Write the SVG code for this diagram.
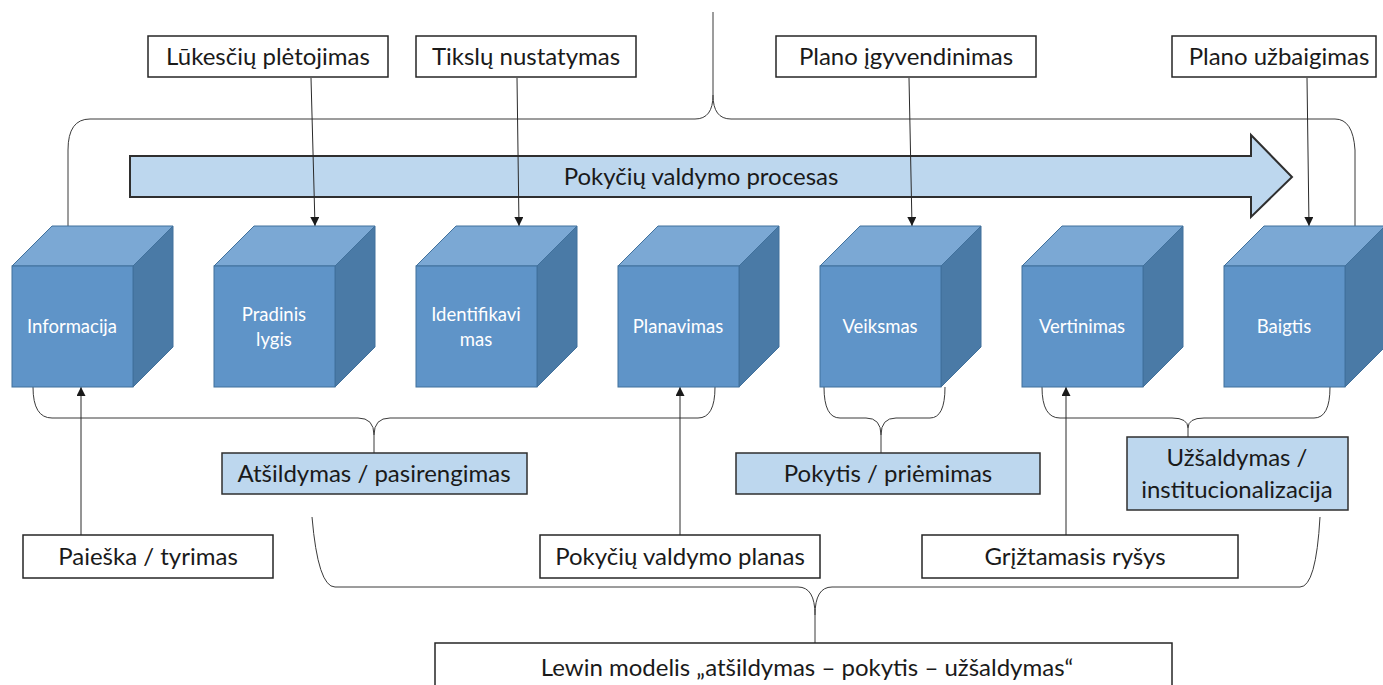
<svg xmlns="http://www.w3.org/2000/svg" width="1383" height="685" viewBox="0 0 1383 685">
<style>
.box{fill:#ffffff;stroke:#262626;stroke-width:1.5}
.lbox{fill:#BDD7EE;stroke:#2f2f2f;stroke-width:1.5}
.t{font-family:Lato,"Open Sans",sans-serif;font-size:24px;fill:#1a1a1a;text-anchor:middle}
.ct{font-family:Lato,"Open Sans",sans-serif;font-size:18.5px;fill:#ffffff;text-anchor:middle}
.front{fill:#5F94C8;stroke:#41719C;stroke-width:1}
.top{fill:#7BA8D4;stroke:#41719C;stroke-width:1}
.side{fill:#4A7AA6;stroke:#41719C;stroke-width:1}
.br{fill:none;stroke:#3a3a3a;stroke-width:1}
.ar{fill:none;stroke:#2a2a2a;stroke-width:1;marker-end:url(#ah)}
</style>
<defs>
<marker id="ah" viewBox="0 0 10 10" refX="10" refY="5" markerWidth="9" markerHeight="9" markerUnits="userSpaceOnUse" orient="auto">
<path d="M0,0 L10,5 L0,10 z" fill="#1a1a1a"/>
</marker>
</defs>
<rect width="1383" height="685" fill="#ffffff"/>

<g id="process-arrow">
<path d="M130,156 L1251,156 L1251,135 L1292,177 L1251,217 L1251,197 L130,197 Z" fill="#BDD7EE" stroke="#2f2f2f" stroke-width="2"/>
<text class="t" x="701" y="185">Pokyčių valdymo procesas</text>
</g>

<g id="connectors">
<path class="br" d="M68,226 L68,150 Q68,119 90,119 L695,119 Q713,119 713,95 L713,12 M713,95 Q713,119 731,119 L1335,119 Q1353,119 1355,150 L1355,226"/>
<path class="br" d="M33,387 Q33,418 52,418 L358,418 Q374,418 374,435 L374,453 M374,435 Q374,418 390,418 L698,418 Q715,418 715,387"/>
<path class="br" d="M824,387 Q824,418 840,418 L866,418 Q881,418 881,435 L881,453 M881,435 Q881,418 896,418 L930,418 Q945,418 945,387"/>
<path class="br" d="M1042,387 Q1042,418 1060,418 L1172,418 Q1188,418 1188,428 L1188,437 M1188,428 Q1188,418 1204,418 L1314,418 Q1330,418 1330,387"/>
<path class="br" d="M312,517 Q318,587 335,587 L798,587 Q815,587 815,615 L815,643 M815,615 Q815,587 832,587 L1300,587 Q1316,587 1320,517"/>
<path class="ar" d="M311,78 L315,226"/>
<path class="ar" d="M517,78 L519,226"/>
<path class="ar" d="M909,78 L912,226"/>
<path class="ar" d="M1307,78 L1309,226"/>
<path class="ar" d="M81,535 L81,387"/>
<path class="ar" d="M680,535 L680,387"/>
<path class="ar" d="M1066,535 L1066,387"/>
</g>

<g id="cube-informacija">
<polygon class="top" points="12,266 52,226 173,226 133,266"/>
<polygon class="side" points="133,266 173,226 173,347 133,387"/>
<rect class="front" x="12" y="266" width="121" height="121"/>
<text class="ct" x="72" y="333">Informacija</text>
</g>
<g id="cube-pradinis">
<polygon class="top" points="214,266 254,226 375,226 335,266"/>
<polygon class="side" points="335,266 375,226 375,347 335,387"/>
<rect class="front" x="214" y="266" width="121" height="121"/>
<text class="ct" x="274" y="321">Pradinis</text>
<text class="ct" x="274" y="346">lygis</text>
</g>
<g id="cube-identifikavimas">
<polygon class="top" points="416,266 456,226 577,226 537,266"/>
<polygon class="side" points="537,266 577,226 577,347 537,387"/>
<rect class="front" x="416" y="266" width="121" height="121"/>
<text class="ct" x="476" y="321">Identifikavi</text>
<text class="ct" x="476" y="346">mas</text>
</g>
<g id="cube-planavimas">
<polygon class="top" points="618,266 658,226 779,226 739,266"/>
<polygon class="side" points="739,266 779,226 779,347 739,387"/>
<rect class="front" x="618" y="266" width="121" height="121"/>
<text class="ct" x="678" y="333">Planavimas</text>
</g>
<g id="cube-veiksmas">
<polygon class="top" points="820,266 860,226 981,226 941,266"/>
<polygon class="side" points="941,266 981,226 981,347 941,387"/>
<rect class="front" x="820" y="266" width="121" height="121"/>
<text class="ct" x="880" y="333">Veiksmas</text>
</g>
<g id="cube-vertinimas">
<polygon class="top" points="1022,266 1062,226 1183,226 1143,266"/>
<polygon class="side" points="1143,266 1183,226 1183,347 1143,387"/>
<rect class="front" x="1022" y="266" width="121" height="121"/>
<text class="ct" x="1082" y="333">Vertinimas</text>
</g>
<g id="cube-baigtis">
<polygon class="top" points="1224,266 1264,226 1385,226 1345,266"/>
<polygon class="side" points="1345,266 1385,226 1385,347 1345,387"/>
<rect class="front" x="1224" y="266" width="121" height="121"/>
<text class="ct" x="1284" y="333">Baigtis</text>
</g>

<g id="box-lukesciu">
<rect class="box" x="148" y="36" width="240" height="41"/>
<text class="t" x="268" y="65">Lūkesčių plėtojimas</text>
</g>
<g id="box-tikslu">
<rect class="box" x="416" y="36" width="220" height="41"/>
<text class="t" x="526" y="65">Tikslų nustatymas</text>
</g>
<g id="box-plano-igyvendinimas">
<rect class="box" x="776" y="36" width="260" height="41"/>
<text class="t" x="906" y="65">Plano įgyvendinimas</text>
</g>
<g id="box-plano-uzbaigimas">
<rect class="box" x="1172" y="36" width="204" height="41"/>
<text class="t" x="1279" y="65">Plano užbaigimas</text>
</g>

<g id="box-atsildymas">
<rect class="lbox" x="222" y="453" width="305" height="41"/>
<text class="t" x="374" y="482">Atšildymas / pasirengimas</text>
</g>
<g id="box-pokytis">
<rect class="lbox" x="736" y="453" width="304" height="41"/>
<text class="t" x="888" y="482">Pokytis / priėmimas</text>
</g>
<g id="box-uzsaldymas">
<rect class="lbox" x="1127" y="437" width="221" height="73"/>
<text class="t" x="1237" y="466">Užšaldymas /</text>
<text class="t" x="1237" y="498">institucionalizacija</text>
</g>

<g id="box-paieska">
<rect class="box" x="23" y="535" width="250" height="43"/>
<text class="t" x="148" y="565">Paieška / tyrimas</text>
</g>
<g id="box-planas">
<rect class="box" x="540" y="535" width="280" height="43"/>
<text class="t" x="680" y="565">Pokyčių valdymo planas</text>
</g>
<g id="box-griztamasis">
<rect class="box" x="922" y="535" width="316" height="43"/>
<text class="t" x="1075" y="565">Grįžtamasis ryšys</text>
</g>

<g id="box-lewin">
<rect class="box" x="435" y="643" width="737" height="50"/>
<text class="t" x="807" y="676">Lewin modelis „atšildymas – pokytis – užšaldymas“</text>
</g>
</svg>
